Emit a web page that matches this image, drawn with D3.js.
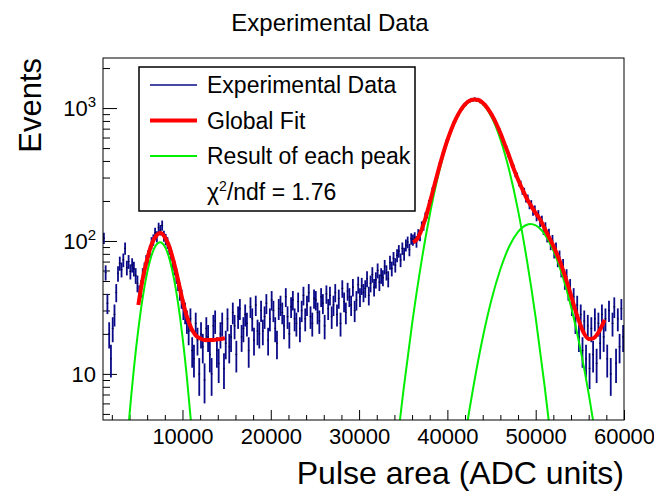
<!DOCTYPE html>
<html>
<head>
<meta charset="utf-8">
<script src="https://cdn.jsdelivr.net/npm/d3@7"></script>
<style>
  body { margin: 0; background: #fff; }
  svg { display: block; }
  text { font-family: "Liberation Sans", Arial, Helvetica, sans-serif; fill: #000; }
</style>
</head>
<body>
<div class="chart"></div>
<script>
// histogram: bins of 200 ADC starting at 1000
const binStart = 1000;
const binWidth = 200;
const counts = [
  105, 58, 34, 20, 13, 22, 28, 41,
  57, 68, 61, 72, 88, 63, 70, 59, 66, 62, 55, 48, 40, 44,
  55, 61, 70, 76, 84, 97, 102, 115, 108, 126, 121, 131, 109, 103, 97, 88, 80, 68, 63, 55, 49, 42, 37, 31, 29, 25,
  21, 26, 15, 13, 24, 18, 10, 20, 16, 9, 22, 19, 14, 10, 23, 25, 15, 12, 20, 24, 11, 17,
  26, 16, 19, 29, 23, 14, 27, 31, 19, 22,
  28, 24, 15, 32, 26, 18, 33, 21, 20, 30,
  21, 27, 34, 18, 26, 36, 30, 22, 17, 31,
  33, 29, 23, 38, 27, 20, 32, 36, 26, 24,
  35, 22, 30, 39, 26, 33, 41, 27, 24, 37,
  36, 29, 25, 38, 34, 23, 40, 31, 39, 27,
  33, 41, 28, 37, 24, 44, 35, 29, 42, 38,
  33, 45, 30, 36, 47,
  38, 46, 41, 44, 52, 39, 48, 56, 45, 51, 60, 49, 55, 53, 64, 58, 52, 69, 62, 74,
  66, 78, 84, 72, 88, 80, 93, 98, 86, 104, 102,
  106, 99, 112, 110, 129, 131, 152, 160, 190, 199,
  238, 251, 296, 318, 372, 399, 457, 490, 556, 592,
  661, 699, 768, 806, 872, 905, 970, 998, 1052, 1071,
  1116, 1125, 1158, 1150, 1171, 1149, 1160, 1122, 1115, 1069,
  1050, 997, 969, 908, 877, 812, 779, 714, 681, 616,
  585, 522, 499, 446, 425, 377, 357, 319, 309, 275,
  268, 238, 236, 209, 209, 187, 189, 168, 172, 153,
  158, 139, 143, 122, 127, 108, 113, 95, 101, 83,
  88, 72, 76, 61, 65, 50, 54, 42, 45, 33,
  38, 25, 33, 19, 28, 15, 25, 13, 23, 11,
  22, 14, 26, 12, 24, 17, 28, 19,
  26, 13, 30, 10, 24, 32, 12, 26, 16, 31, 19
];

// global fit, first region
const fitLowX = [5000, 5500, 6000, 6500, 7000, 7500, 8000, 8500, 9000, 9500, 10000,
  10500, 11000, 11500, 12000, 12500, 13000, 13500, 14000, 14500, 14800];
const fitLowY = [33, 52, 73, 94, 109, 115, 107, 91, 70, 51, 36,
  27, 22, 19.5, 18.5, 18, 18, 18, 18.2, 18.4, 18.6];

// global fit, second region
const fitHighX = [36100, 36500, 37000, 37500, 38000, 38500, 39000, 39500, 40000, 40500,
  41000, 41500, 42000, 42500, 43000, 43500, 44000, 44500, 45000, 45500,
  46000, 46500, 47000, 47500, 48000, 48500, 49000, 49500, 50000, 50500,
  51000, 51500, 52000, 52500, 53000, 53500, 54000, 54500, 55000, 55500,
  56000, 56500, 57000, 57500, 57800];
const fitHighY = [98, 102, 118, 147, 193, 258, 344, 450, 573, 706,
  840, 963, 1065, 1133, 1162, 1150, 1095, 1006, 893, 772,
  648, 530, 435, 350, 290, 244, 208, 183, 162, 145,
  125, 107, 92, 77, 63, 50, 39, 30, 24, 20,
  18.3, 18.5, 20, 23, 25.5];

// single peaks
const peak1X = [3900, 4000, 4200, 4500, 5000, 5500, 6000, 6500, 7000, 7450, 8000, 8500, 9000, 9500, 10000, 10500, 11000];
const peak1Y = [4.1, 4.9, 6.9, 11.0, 21.6, 37.7, 57.8, 78.1, 93.1, 98, 90.8, 74.3, 53.5, 34.1, 19.1, 9.4, 4.1];
const peak2X = [34500, 35000, 36000, 37000, 38000, 39000, 40000, 41000, 42000, 43050,
  44000, 45000, 46000, 47000, 48000, 49000, 50000, 51000, 51600];
const peak2Y = [3.8, 7.3, 23.7, 65.9, 157, 319, 556, 828, 1055, 1150,
  1072, 854, 583, 340, 170, 72, 26.4, 8.2, 3.8];
const peak3X = [42200, 42500, 43000, 44000, 45000, 46000, 47000, 48000, 49000, 49400,
  50000, 51000, 52000, 53000, 54000, 55000, 56000, 56600];
const peak3Y = [4.05, 5.4, 8.4, 18.7, 36.3, 61.3, 90.8, 117, 132.5, 134,
  130.8, 112.7, 84.8, 55.8, 32.1, 16.1, 7.1, 4.05];

const xTickValues = [10000, 20000, 30000, 40000, 50000, 60000];
const yTickValues = [10, 100, 1000];
const legendLabels = ["Experimental Data", "Global Fit", "Result of each peak"];
const chiValue = "1.76";

const dataColor = "#0a0a88";
const fitColor = "#ff0000";
const peakColor = "#00ee00";

const margin = { top: 58, right: 30, bottom: 72, left: 103 };
const width = 654 - margin.left - margin.right;
const height = 492 - margin.top - margin.bottom;

const svgRoot = d3
  .select(".chart")
  .append("svg")
  .attr("width", 654)
  .attr("height", 492);

const svg = svgRoot
  .append("g")
  .attr("transform", `translate(${margin.left},${margin.top})`);

const xScale = d3.scaleLinear().domain([1000, 60000]).range([0, width]);
const yScale = d3.scaleLog().domain([4.5, 2380]).range([height, 0]);

svg
  .append("clipPath")
  .attr("id", "frame-clip")
  .append("rect")
  .attr("width", width)
  .attr("height", height);

// axes, ticks point into the frame
const xMinor = d3.range(2000, 60001, 2000).filter((d) => d % 10000 !== 0);
svg
  .append("g")
  .attr("transform", `translate(0,${height})`)
  .call(d3.axisBottom(xScale).tickValues(xMinor).tickSize(-5).tickFormat(""))
  .call((g) => g.select(".domain").remove());

const xAxisG = svg
  .append("g")
  .attr("transform", `translate(0,${height})`)
  .call(
    d3.axisBottom(xScale).tickValues(xTickValues).tickSize(-10).tickPadding(8).tickFormat(d3.format("d"))
  );
xAxisG.select(".domain").remove();
xAxisG.selectAll("text").attr("font-size", 22).style("font-family", null);

const yMinor = [5, 6, 7, 8, 9, 20, 30, 40, 50, 60, 70, 80, 90, 200, 300, 400, 500, 600, 700, 800, 900, 2000];
svg
  .append("g")
  .call(d3.axisLeft(yScale).tickValues(yMinor).tickSize(-7).tickFormat(""))
  .call((g) => g.select(".domain").remove());

const yAxisG = svg
  .append("g")
  .call(d3.axisLeft(yScale).tickValues(yTickValues).tickSize(-14).tickPadding(7).tickFormat(""));
yAxisG.select(".domain").remove();
yAxisG.selectAll(".tick text").each(function (d) {
  const t = d3.select(this).attr("font-size", 22).attr("dy", "0.36em");
  const p = Math.round(Math.log10(d));
  if (p === 1) {
    t.append("tspan").text("10");
  } else {
    t.append("tspan").text("10");
    t.append("tspan").attr("font-size", 15).attr("dy", "-0.6em").text(p);
  }
});
svg.selectAll(".tick line").attr("stroke", "#000");

// histogram with error bars
const bars = svg.append("g").attr("clip-path", "url(#frame-clip)");
const bins = counts.map((c, i) => ({
  lo: binStart + i * binWidth,
  hi: binStart + (i + 1) * binWidth,
  mid: binStart + (i + 0.5) * binWidth,
  c: c
}));
const clampY = (v) => yScale(Math.max(v, 1));

bars
  .selectAll(".err")
  .data(bins)
  .enter()
  .append("line")
  .attr("x1", (d) => xScale(d.mid))
  .attr("x2", (d) => xScale(d.mid))
  .attr("y1", (d) => clampY(d.c - Math.sqrt(d.c)))
  .attr("y2", (d) => clampY(d.c + Math.sqrt(d.c)))
  .attr("stroke", dataColor)
  .attr("stroke-width", 1.8);

bars
  .selectAll(".hbar")
  .data(bins)
  .enter()
  .append("line")
  .attr("x1", (d) => xScale(d.lo))
  .attr("x2", (d) => xScale(d.hi))
  .attr("y1", (d) => yScale(d.c))
  .attr("y2", (d) => yScale(d.c))
  .attr("stroke", dataColor)
  .attr("stroke-width", 1.2);

bars
  .selectAll(".dot")
  .data(bins)
  .enter()
  .append("rect")
  .attr("x", (d) => xScale(d.mid) - 0.5)
  .attr("y", (d) => yScale(d.c) - 0.5)
  .attr("width", 1)
  .attr("height", 1)
  .attr("fill", "#000");

// fit curves
const curve = d3
  .line()
  .x((d) => xScale(d[0]))
  .y((d) => yScale(d[1]))
  .curve(d3.curveMonotoneX);
const zip = (xs, ys) => xs.map((x, i) => [x, ys[i]]);

const fits = svg.append("g").attr("clip-path", "url(#frame-clip)");
[[peak1X, peak1Y], [peak2X, peak2Y], [peak3X, peak3Y]].forEach(([xs, ys]) => {
  fits
    .append("path")
    .attr("d", curve(zip(xs, ys)))
    .attr("fill", "none")
    .attr("stroke", peakColor)
    .attr("stroke-width", 2);
});
[[fitLowX, fitLowY], [fitHighX, fitHighY]].forEach(([xs, ys]) => {
  fits
    .append("path")
    .attr("d", curve(zip(xs, ys)))
    .attr("fill", "none")
    .attr("stroke", fitColor)
    .attr("stroke-width", 4)
    .attr("stroke-linejoin", "round");
});

// frame
svg
  .append("rect")
  .attr("width", width)
  .attr("height", height)
  .attr("fill", "none")
  .attr("stroke", "#000")
  .attr("stroke-width", 1);

// legend
const legend = svgRoot.append("g").attr("transform", "translate(139,67)");
legend
  .append("rect")
  .attr("width", 276)
  .attr("height", 144)
  .attr("fill", "#fff")
  .attr("stroke", "#000")
  .attr("stroke-width", 1.5);

const legendStyles = [
  { color: dataColor, w: 1.5 },
  { color: fitColor, w: 4 },
  { color: peakColor, w: 2 }
];
legendLabels.forEach((label, i) => {
  const yy = 18 + i * 35.5;
  legend
    .append("line")
    .attr("x1", 11)
    .attr("x2", 58)
    .attr("y1", yy)
    .attr("y2", yy)
    .attr("stroke", legendStyles[i].color)
    .attr("stroke-width", legendStyles[i].w);
  legend
    .append("text")
    .attr("x", 68)
    .attr("y", yy)
    .attr("dy", "0.36em")
    .attr("font-size", 23)
    .text(label);
});
const chi = legend
  .append("text")
  .attr("x", 68)
  .attr("y", 18 + 3 * 35.5)
  .attr("dy", "0.36em")
  .attr("font-size", 23);
chi.append("tspan").text("\u03c7");
chi.append("tspan").attr("font-size", 14).attr("dy", "-0.65em").text("2");
chi.append("tspan").attr("dy", "0.4em").text("/ndf = " + chiValue);

// titles
svgRoot
  .append("text")
  .attr("x", 330)
  .attr("y", 31)
  .attr("text-anchor", "middle")
  .attr("font-size", 24)
  .text("Experimental Data");

svgRoot
  .append("text")
  .attr("x", margin.left + width)
  .attr("y", 484)
  .attr("text-anchor", "end")
  .attr("font-size", 32)
  .text("Pulse area (ADC units)");

svgRoot
  .append("text")
  .attr("transform", `translate(41,${margin.top}) rotate(-90)`)
  .attr("text-anchor", "end")
  .attr("font-size", 31)
  .text("Events");
</script>
</body>
</html>
